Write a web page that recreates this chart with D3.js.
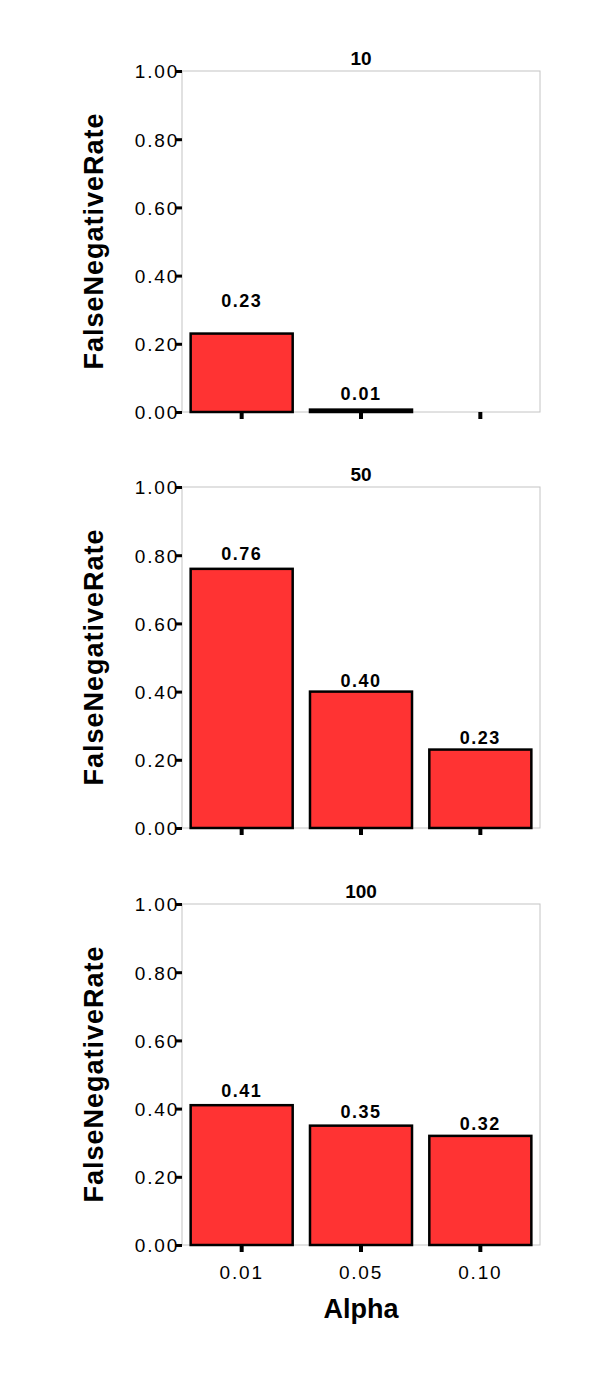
<!DOCTYPE html>
<html>
<head>
<meta charset="utf-8">
<script src="https://cdnjs.cloudflare.com/ajax/libs/d3/7.8.5/d3.min.js"></script>
<style>
  body { margin: 0; background: #fff; }
  svg text { font-family: "Liberation Sans", Arial, Helvetica, sans-serif; fill: #000; }
</style>
</head>
<body>
<div id="chart"></div>
<script>
// data
var alphas = ["0.01", "0.05", "0.10"];
var panelTitles = ["10", "50", "100"];
var rates10 = [0.23, 0.007, null];
var rates50 = [0.76, 0.40, 0.23];
var rates100 = [0.41, 0.35, 0.32];
var yTicks = [0, 0.2, 0.4, 0.6, 0.8, 1.0];

var series = [rates10, rates50, rates100];
// gap between bar top and its value label, per panel
var labelGap = [[27, 10, 7], [9, 5, 6], [8, 8, 6]];

var width = 600, height = 1385;
var left = 182, right = 540;
var panelTop = [71, 487, 904], panelH = 341;

var svg = d3.select("#chart").append("svg")
  .attr("width", width)
  .attr("height", height);

var x = d3.scaleBand()
  .domain(alphas)
  .range([left, right])
  .paddingInner(0.145)
  .paddingOuter(0.0725);

series.forEach(function(vals, p) {
  var top = panelTop[p];
  var y = d3.scaleLinear().domain([0, 1]).range([top + panelH, top]);
  var g = svg.append("g");

  // frame
  g.append("rect")
    .attr("x", left).attr("y", top)
    .attr("width", right - left).attr("height", panelH)
    .attr("fill", "none")
    .attr("stroke", "#c4c4c4")
    .attr("stroke-width", 1);

  // title
  g.append("text")
    .attr("x", (left + right) / 2)
    .attr("y", top - 6)
    .attr("text-anchor", "middle")
    .style("font-size", "19px")
    .style("font-weight", "bold")
    .text(panelTitles[p]);

  // y axis
  var yAxis = d3.axisLeft(y)
    .tickValues(yTicks)
    .tickFormat(d3.format(".2f"))
    .tickSize(6)
    .tickPadding(-3);
  var ya = g.append("g")
    .attr("transform", "translate(" + left + ",0)")
    .call(yAxis);
  ya.select(".domain").remove();
  ya.selectAll(".tick line").attr("stroke", "#000").attr("stroke-width", 3);
  ya.selectAll(".tick text")
    .style("font-size", "19px")
    .style("letter-spacing", "1.8px")
    .attr("dy", "0.36em");

  // y title
  g.append("text")
    .attr("transform", "translate(103," + (top + panelH / 2) + ") rotate(-90)")
    .attr("text-anchor", "middle")
    .style("font-size", "27px")
    .style("font-weight", "bold")
    .attr("textLength", 256)
    .text("FalseNegativeRate");

  // x axis ticks
  var xAxis = d3.axisBottom(x).tickSize(7).tickPadding(14);
  var xa = g.append("g")
    .attr("transform", "translate(0," + (top + panelH) + ")")
    .call(xAxis);
  xa.select(".domain").remove();
  xa.selectAll(".tick line").attr("stroke", "#000").attr("stroke-width", 4);
  if (p < 2) {
    xa.selectAll(".tick text").remove();
  } else {
    xa.selectAll(".tick text")
      .style("font-size", "19px")
      .style("letter-spacing", "1.8px");
  }

  var data = alphas.map(function(a, i) { return { a: a, v: vals[i], i: i }; })
    .filter(function(d) { return d.v !== null; });

  // bars
  g.selectAll("rect.bar").data(data).enter().append("rect")
    .attr("class", "bar")
    .attr("x", function(d) { return x(d.a); })
    .attr("y", function(d) { return y(d.v); })
    .attr("width", x.bandwidth())
    .attr("height", function(d) { return y(0) - y(d.v); })
    .attr("fill", "#ff3333")
    .attr("stroke", "#000")
    .attr("stroke-width", 2.5);

  // value labels
  g.selectAll("text.val").data(data).enter().append("text")
    .attr("class", "val")
    .attr("x", function(d) { return x(d.a) + x.bandwidth() / 2; })
    .attr("y", function(d) { return y(d.v) - labelGap[p][d.i]; })
    .attr("text-anchor", "middle")
    .style("font-size", "18px")
    .style("font-weight", "bold")
    .style("letter-spacing", "1.5px")
    .text(function(d) { return d3.format(".2f")(d.v); });
});

// x title
svg.append("text")
  .attr("x", (left + right) / 2)
  .attr("y", 1318)
  .attr("text-anchor", "middle")
  .style("font-size", "27px")
  .style("font-weight", "bold")
  .text("Alpha");
</script>
</body>
</html>
